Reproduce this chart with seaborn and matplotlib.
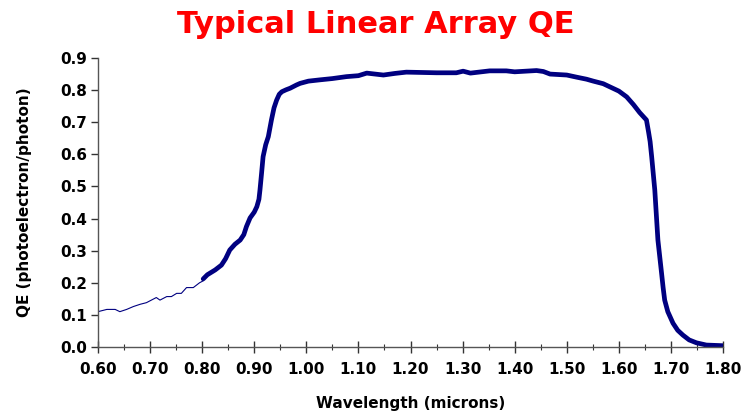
import numpy as np
import pandas as pd
import seaborn as sns
import matplotlib.pyplot as plt
from matplotlib.ticker import MultipleLocator, FormatStrFormatter

# Thin segment (0.60 - 0.80 microns)
wl_low = [0.600, 0.617, 0.633, 0.642, 0.655, 0.668, 0.681, 0.693, 0.712, 0.719,
          0.732, 0.741, 0.751, 0.760, 0.770, 0.783, 0.795, 0.802]
qe_low = [0.110, 0.117, 0.117, 0.110, 0.117, 0.126, 0.133, 0.138, 0.154, 0.146,
          0.157, 0.157, 0.167, 0.167, 0.185, 0.185, 0.200, 0.206]

# Thick segment (0.80 - 1.80 microns)
wl_high = [0.802, 0.810, 0.825, 0.837, 0.845, 0.853, 0.863, 0.873, 0.880, 0.885,
           0.892, 0.900, 0.905, 0.909, 0.911, 0.914, 0.917, 0.922, 0.927, 0.933,
           0.938, 0.943, 0.948, 0.953, 0.961, 0.969, 0.981, 0.988, 1.004, 1.026,
           1.050, 1.077, 1.100, 1.116, 1.148, 1.170, 1.192, 1.250, 1.288, 1.301,
           1.315, 1.352, 1.384, 1.400, 1.442, 1.455, 1.468, 1.500, 1.520, 1.538,
           1.551, 1.570, 1.583, 1.600, 1.615, 1.628, 1.640, 1.653, 1.657, 1.660,
           1.663, 1.669, 1.675, 1.682, 1.685, 1.688, 1.694, 1.704, 1.713, 1.723,
           1.735, 1.749, 1.768, 1.800]
qe_high = [0.212, 0.225, 0.240, 0.255, 0.275, 0.302, 0.320, 0.333, 0.350, 0.375,
           0.402, 0.420, 0.437, 0.460, 0.489, 0.540, 0.593, 0.630, 0.655, 0.707,
           0.745, 0.769, 0.787, 0.795, 0.801, 0.806, 0.816, 0.821, 0.828, 0.832,
           0.836, 0.842, 0.845, 0.853, 0.847, 0.852, 0.856, 0.854, 0.854, 0.859,
           0.853, 0.860, 0.860, 0.857, 0.861, 0.858, 0.850, 0.847, 0.840, 0.834,
           0.828, 0.820, 0.810, 0.797, 0.779, 0.755, 0.730, 0.707, 0.670, 0.640,
           0.593, 0.489, 0.333, 0.230, 0.185, 0.146, 0.110, 0.074, 0.052, 0.037,
           0.022, 0.013, 0.006, 0.004]

low_df = pd.DataFrame({"wl": wl_low, "qe": qe_low})
high_df = pd.DataFrame({"wl": wl_high, "qe": qe_high})

sns.set_style("white")
plt.rcParams["font.family"] = ["DejaVu Sans"]
plt.rcParams["text.color"] = "black"
plt.rcParams["axes.labelcolor"] = "black"
plt.rcParams["xtick.color"] = "black"
plt.rcParams["ytick.color"] = "black"

fig = plt.figure(figsize=(7.44, 4.15), dpi=100)
ax = fig.add_axes([0.1317, 0.1639, 0.8401, 0.6963])

sns.lineplot(data=low_df, x="wl", y="qe", ax=ax, color="#000080", linewidth=0.8)
sns.lineplot(data=high_df, x="wl", y="qe", ax=ax, color="#000080", linewidth=3.4,
             solid_capstyle="round", solid_joinstyle="round")

ax.set_xlim(0.6, 1.8)
ax.set_ylim(0.0, 0.9)
ax.xaxis.set_major_locator(MultipleLocator(0.1))
ax.xaxis.set_minor_locator(MultipleLocator(0.05))
ax.yaxis.set_major_locator(MultipleLocator(0.1))
ax.xaxis.set_major_formatter(FormatStrFormatter("%.2f"))
ax.yaxis.set_major_formatter(FormatStrFormatter("%.1f"))

sns.despine(ax=ax)
for s in ["left", "bottom"]:
    ax.spines[s].set_color("#555555")
    ax.spines[s].set_linewidth(1.0)

ax.tick_params(axis="x", which="major", direction="inout", length=9, width=1,
               color="#333333", labelsize=11, pad=6, bottom=True)
ax.tick_params(axis="x", which="minor", direction="inout", length=5, width=0.8,
               color="#333333", bottom=True)
ax.tick_params(axis="y", which="major", direction="out", length=5, width=1,
               color="#333333", labelsize=11, pad=3, left=True)
for lab in ax.get_xticklabels() + ax.get_yticklabels():
    lab.set_fontweight("bold")

ax.set_xlabel("Wavelength (microns)", fontsize=11, fontweight="bold", labelpad=14)
ax.set_ylabel("QE (photoelectron/photon)", fontsize=11, fontweight="bold", labelpad=20)
fig.suptitle("Typical Linear Array QE", color="red", fontsize=22, fontweight="bold",
             x=0.505, y=0.975)

fig.savefig("out.png", dpi=100)
